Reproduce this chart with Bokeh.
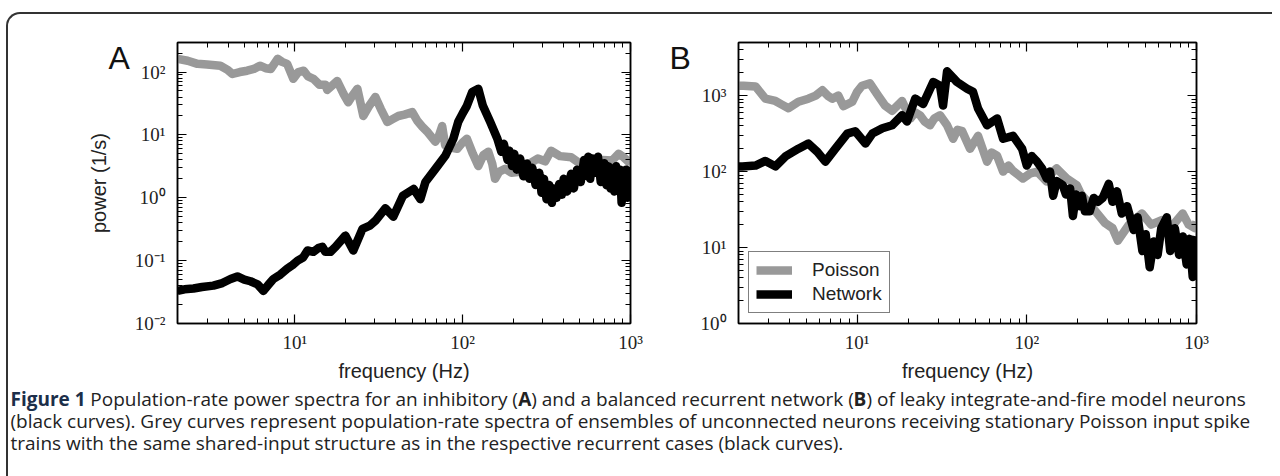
from bokeh.plotting import figure
from bokeh.models import (FixedTicker, LogAxis, CustomJSTickFormatter,
                          Range1d, Legend, LegendItem)
from bokeh.layouts import row, column
from bokeh.core.properties import value
from bokeh.embed import file_html
from bokeh.resources import INLINE

# ---------------- data ----------------
freq_a_poisson = [2.0, 2.3, 2.63, 3.0, 3.6, 4.0, 4.25, 4.7, 5.2, 5.7, 6.2, 6.7, 7.2, 7.9, 8.4,
                  9.0, 9.8, 10.5, 11.3, 12.0, 12.9, 14.0, 15.2, 15.6, 17.9, 19.5, 20.8, 22.0,
                  23.6, 25.6, 27.5, 30.2, 32.5, 35.6, 38.5, 41.4, 45.0, 50.1, 53.5, 57.5, 62.0,
                  68.7, 72.0, 75.5, 78.7, 85.0, 92.9, 100, 106, 115, 124, 133, 142, 150, 156,
                  165, 179, 195, 220, 250, 280, 310, 336, 380, 443, 500, 590, 680, 776, 850,
                  912, 1000]
power_a_poisson = [162, 151, 135, 132, 126, 107, 93, 100, 105, 112, 126, 115, 112, 162, 145,
                   135, 78, 100, 105, 85, 78, 63, 63, 52, 72, 45, 33, 42, 54, 20, 28, 40, 26,
                   16, 18, 20, 21, 23, 17, 13.5, 11, 7.8, 9.5, 13.8, 6.8, 6.3, 6.0, 7.6, 8.7,
                   5.0, 3.2, 4.8, 5.4, 3.5, 2.0, 2.6, 2.9, 2.5, 2.6, 3.5, 4.2, 3.8, 5.6, 4.6,
                   4.4, 3.5, 2.4, 4.0, 3.9, 5.0, 4.4, 3.5]

freq_a_network = [2.0, 2.2, 2.49, 2.8, 3.27, 3.7, 4.14, 4.55, 5.0, 5.44, 6.0, 6.5, 7.0, 7.45,
                  8.2, 9.0, 9.7, 10.4, 11.2, 11.9, 12.9, 13.8, 14.6, 15.2, 16.3, 17.5, 20.0,
                  22.3, 25.3, 28.0, 30.2, 34.6, 38.6, 44.0, 51.0, 56.0, 60.0, 69.0, 79.0, 88.0,
                  94.0, 100, 106, 114, 124, 132, 146, 161, 170, 176, 185, 190, 197, 203, 210,
                  220, 230, 242, 250, 260, 272, 286, 295, 305, 316, 328, 340, 350, 363, 376,
                  390, 400, 420, 443, 460, 480, 505, 529, 545, 560, 575, 591, 615, 640, 665,
                  697, 720, 740, 760, 777, 800, 820, 845, 867, 885, 900, 920, 940, 960, 980,
                  1000]
power_a_network = [0.033, 0.035, 0.036, 0.038, 0.040, 0.044, 0.051, 0.056, 0.050, 0.047,
                   0.042, 0.033, 0.042, 0.051, 0.060, 0.074, 0.085, 0.10, 0.112, 0.145,
                   0.138, 0.158, 0.166, 0.138, 0.138, 0.166, 0.25, 0.145, 0.32, 0.36, 0.43,
                   0.68, 0.50, 1.07, 1.38, 0.95, 1.78, 2.9, 4.7, 8.7, 16, 22, 29, 48, 54, 29,
                   16, 8.7, 5.4, 7.2, 4.0, 5.6, 3.2, 5.0, 2.8, 4.2, 2.2, 3.5, 2.0, 3.0, 1.6,
                   2.5, 1.2, 2.0, 0.95, 1.6, 0.83, 1.4, 1.0, 1.66, 1.12, 2.0, 1.26, 2.4, 1.41,
                   2.8, 1.78, 4.0, 2.24, 4.5, 2.0, 4.2, 2.5, 4.5, 1.78, 3.55, 1.58, 3.16, 1.41,
                   2.8, 1.26, 3.16, 1.58, 2.8, 0.83, 2.5, 1.12, 2.8, 1.0, 2.5, 1.6]

freq_b_poisson = [2.0, 2.14, 2.52, 2.88, 3.3, 3.6, 3.94, 4.51, 5.16, 5.7, 6.24, 6.7, 7.14,
                  7.75, 8.3, 9.37, 10.0, 10.7, 11.9, 13.3, 14.6, 16.1, 18.4, 20.6, 22.0, 23.5,
                  25.0, 26.9, 28.5, 30.8, 33.9, 36.8, 39.0, 41.6, 46.3, 51.6, 58.3, 62.0, 66.8,
                  72.5, 78.0, 83.0, 94.9, 105, 115, 131, 140, 150, 172, 197, 208, 240, 289,
                  320, 344, 400, 477, 540, 624, 700, 829, 900, 977, 1000]
power_b_poisson = [1350, 1350, 1320, 910, 850, 760, 680, 830, 910, 1000, 1175, 1000, 910,
                   1000, 725, 830, 1120, 1350, 1450, 1000, 740, 630, 850, 500, 600, 550, 457,
                   407, 500, 550, 407, 270, 355, 340, 200, 295, 135, 178, 162, 100, 120, 102,
                   81, 95, 100, 74, 95, 110, 81, 66, 51, 35, 21, 18, 12.3, 20, 28, 20, 23, 18,
                   28, 20, 18, 22]

freq_b_network = [2.0, 2.11, 2.52, 2.88, 3.3, 3.78, 4.51, 5.16, 5.83, 6.5, 7.45, 8.75, 9.75,
                  11.2, 12.3, 14.1, 16.1, 18.4, 19.7, 22.0, 24.5, 28.1, 30.8, 32.1, 33.9, 38.8,
                  44.5, 48.2, 51.6, 58.3, 66.8, 72.5, 83.0, 93.8, 100, 107, 115, 123, 131, 137,
                  143, 150, 163, 170, 180, 187, 195, 205, 211, 220, 235, 248, 262, 280, 304,
                  320, 340, 363, 390, 427, 450, 480, 502, 530, 560, 590, 620, 668, 700, 745,
                  790, 830, 875, 910, 950, 975, 1000]
power_b_network = [117, 117, 120, 138, 117, 158, 200, 234, 182, 135, 200, 316, 339, 234, 316,
                   372, 407, 550, 457, 912, 776, 1510, 1350, 740, 2090, 1510, 1230, 1120, 676,
                   407, 500, 270, 295, 200, 120, 160, 135, 110, 81, 100, 48, 75, 66, 50, 60,
                   26, 50, 35, 48, 30, 30, 45, 40, 45, 69, 40, 55, 28, 35, 17, 25, 9, 15, 5.5,
                   12, 8, 18, 25, 9, 18, 8, 14, 6, 13, 4.1, 11, 14]

series_labels = ["Poisson", "Network"]
panel_letters = ["A", "B"]
x_label = "frequency (Hz)"
y_label = "power (1/s)"

caption_line1 = [("Figure 1", True),
                 (" Population-rate power spectra for an inhibitory (", False),
                 ("A", True),
                 (") and a balanced recurrent network (", False),
                 ("B", True),
                 (") of leaky integrate-and-fire model neurons", False)]
caption_line2 = ("(black curves). Grey curves represent population-rate spectra of ensembles "
                 "of unconnected neurons receiving stationary Poisson input spike")
caption_line3 = ("trains with the same shared-input structure as in the respective recurrent "
                 "cases (black curves).")

# ---------------- axis ticks ----------------
X_MAJOR = [10.0, 100.0, 1000.0]
X_MINOR = [m * 10.0 ** d for d in range(0, 3) for m in range(2, 10)]
YA_MAJOR = [0.01, 0.1, 1.0, 10.0, 100.0]
YA_MINOR = [m * 10.0 ** d for d in range(-2, 3) for m in range(2, 10)]
YB_MAJOR = [1.0, 10.0, 100.0, 1000.0]
YB_MINOR = [m * 10.0 ** d for d in range(0, 4) for m in range(2, 10)]

SUP_JS = r"""
const e = Math.round(Math.log10(tick));
const m = {"-": "\u207B", "0": "\u2070", "1": "\u00B9", "2": "\u00B2", "3": "\u00B3",
           "4": "\u2074", "5": "\u2075", "6": "\u2076", "7": "\u2077", "8": "\u2078", "9": "\u2079"};
let s = "";
for (const c of String(e)) { s += m[c]; }
return "10" + s;
"""
EMPTY_JS = "return ' ';"

GREY = "#999999"
BLACK = "#000000"
LW = 8.5
FRAME_H = 281


def style_ticks(ax):
    ax.axis_line_color = "black"
    ax.axis_line_width = 1.5
    ax.major_tick_line_color = "black"
    ax.major_tick_line_width = 1.2
    ax.minor_tick_line_color = "black"
    ax.minor_tick_line_width = 1
    ax.major_tick_in = 9
    ax.major_tick_out = 0
    ax.minor_tick_in = 5
    ax.minor_tick_out = 0


def make_panel(y_lo, y_hi, y_major, y_minor, b_left, b_right, frame_w, ylab):
    p = figure(x_axis_type="log", y_axis_type="log",
               x_range=Range1d(2, 1000), y_range=Range1d(y_lo, y_hi),
               frame_width=frame_w, frame_height=FRAME_H,
               min_border_left=b_left, min_border_right=b_right,
               min_border_top=28, min_border_bottom=59,
               toolbar_location=None, output_backend="svg",
               background_fill_color="white", border_fill_color=None,
               outline_line_color="black", outline_line_width=1.5)
    p.grid.visible = False
    xt = FixedTicker(ticks=X_MAJOR, minor_ticks=X_MINOR)
    yt = FixedTicker(ticks=y_major, minor_ticks=y_minor)
    xa = p.xaxis[0]
    ya = p.yaxis[0]
    xa.ticker = xt
    ya.ticker = yt
    xa.formatter = CustomJSTickFormatter(code=SUP_JS)
    ya.formatter = CustomJSTickFormatter(code=SUP_JS)
    top = LogAxis(ticker=xt, formatter=CustomJSTickFormatter(code=EMPTY_JS),
                  major_label_text_font_size="6px", major_label_text_color=None,
                  major_label_standoff=0)
    right = LogAxis(ticker=yt, formatter=CustomJSTickFormatter(code=EMPTY_JS),
                    major_label_text_font_size="6px", major_label_text_color=None,
                    major_label_standoff=0)
    p.add_layout(top, "above")
    p.add_layout(right, "right")
    for ax in (xa, ya, top, right):
        style_ticks(ax)
    for ax in (xa, ya):
        ax.major_label_text_font = "Liberation Serif"
        ax.major_label_text_font_size = "19px"
        ax.major_label_text_color = "#222222"
    xa.major_label_standoff = 8
    ya.major_label_standoff = 12
    xa.axis_label = x_label
    xa.axis_label_text_font = "Liberation Sans"
    xa.axis_label_text_font_size = "20px"
    xa.axis_label_text_font_style = "normal"
    xa.axis_label_text_color = "#222222"
    xa.axis_label_standoff = 4
    if ylab:
        ya.axis_label = ylab
        ya.axis_label_text_font = "Liberation Sans"
        ya.axis_label_text_font_size = "20px"
        ya.axis_label_text_font_style = "normal"
        ya.axis_label_text_color = "#222222"
        ya.axis_label_standoff = 22
    return p


pA = make_panel(0.01, 295, YA_MAJOR, YA_MINOR, 169, 30, 453, y_label)
pA.line(freq_a_poisson, power_a_poisson, line_color=GREY, line_width=LW, line_join="round")
pA.line(freq_a_network, power_a_network, line_color=BLACK, line_width=LW, line_join="round")

pB = make_panel(1, 5000, YB_MAJOR, YB_MINOR, 78, 76, 458, None)
rg = pB.line(freq_b_poisson, power_b_poisson, line_color=GREY, line_width=LW, line_join="round")
rk = pB.line(freq_b_network, power_b_network, line_color=BLACK, line_width=LW, line_join="round")
legend = Legend(items=[LegendItem(label=series_labels[0], renderers=[rg]),
                       LegendItem(label=series_labels[1], renderers=[rk])],
                location="bottom_left", margin=10, padding=7, spacing=2,
                label_height=18, glyph_height=18, glyph_width=36, label_standoff=20,
                border_line_color="black", border_line_width=1.5,
                background_fill_color="white", background_fill_alpha=1.0,
                label_text_font="Liberation Sans", label_text_font_size="19px",
                label_text_color="#222222")
pB.add_layout(legend)


# ---------------- panel letters (small transparent overlay figures) ----------------
def letter_fig(letter, left, top):
    f = figure(width=64, height=64, x_range=Range1d(0, 64), y_range=Range1d(64, 0),
               toolbar_location=None, output_backend="svg", min_border=0,
               x_axis_location=None, y_axis_location=None, outline_line_color=None,
               background_fill_color=None, border_fill_color=None,
               styles={"position": "absolute", "left": "%dpx" % left, "top": "%dpx" % top})
    f.grid.visible = False
    f.text(x=[4], y=[44], text=[letter], text_font=value("Liberation Sans"),
           text_font_size=value("32px"), text_color=value("#111111"),
           text_baseline=value("alphabetic"), text_align=value("left"))
    return f


figA_letter = letter_fig(panel_letters[0], 96, -1)
figB_letter = letter_fig(panel_letters[1], 657, -1)

# ---------------- caption ----------------
CAP_PX = 19.0
REG = {' ': 532, 'a': 1139, 'b': 1255, 'c': 975, 'd': 1255, 'e': 1149, 'f': 694, 'g': 1122,
       'h': 1257, 'i': 518, 'k': 1075, 'l': 518, 'm': 1905, 'n': 1257, 'o': 1237, 'p': 1255,
       'r': 836, 's': 977, 't': 723, 'u': 1257, 'v': 1026, 'w': 1593, 'y': 1028, 'P': 1257,
       '(': 586, ')': 586, '-': 659, '.': 545}
BOLD = {'F': 1128, 'i': 621, 'g': 1165, 'u': 1335, 'r': 924, 'e': 1200, ' ': 532,
        '1': 1171, 'A': 1407, 'B': 1405}


def text_w(s, bold):
    tab = BOLD if bold else REG
    return sum(tab.get(c, 1100) for c in s) * CAP_PX / 2048.0


cap = figure(width=1264, height=94, x_range=Range1d(0, 1264), y_range=Range1d(94, 0),
             toolbar_location=None, output_backend="svg", min_border=0,
             x_axis_location=None, y_axis_location=None, outline_line_color=None,
             background_fill_color=None, border_fill_color=None)
cap.grid.visible = False

line_y = [14, 36, 58]
x0 = 2
xs = x0
for seg, bold in caption_line1:
    body = seg.lstrip(" ")
    lead = seg[:len(seg) - len(body)]
    cap.text(x=[xs + text_w(lead, bold)], y=[line_y[0]], text=[body],
             text_font=value("Open Sans"),
             text_font_size=value("%.1fpx" % CAP_PX),
             text_font_style=value("bold" if bold else "normal"),
             text_color=value("#1c2f4a" if seg == "Figure 1" else "#222222"),
             text_baseline=value("middle"), text_align=value("left"))
    xs += text_w(seg, bold)
for txt, yy in ((caption_line2, line_y[1]), (caption_line3, line_y[2])):
    cap.text(x=[x0], y=[yy], text=[txt], text_font=value("Open Sans"),
             text_font_size=value("%.1fpx" % CAP_PX), text_color=value("#222222"),
             text_baseline=value("middle"), text_align=value("left"))

layout = column(row(pA, pB), cap, figA_letter, figB_letter,
                styles={"position": "absolute", "left": "6px", "top": "12px",
                        "border-top": "2px solid #333333", "border-left": "2px solid #333333",
                        "border-top-left-radius": "14px"})

open("out.html", "w").write(file_html(layout, INLINE))
